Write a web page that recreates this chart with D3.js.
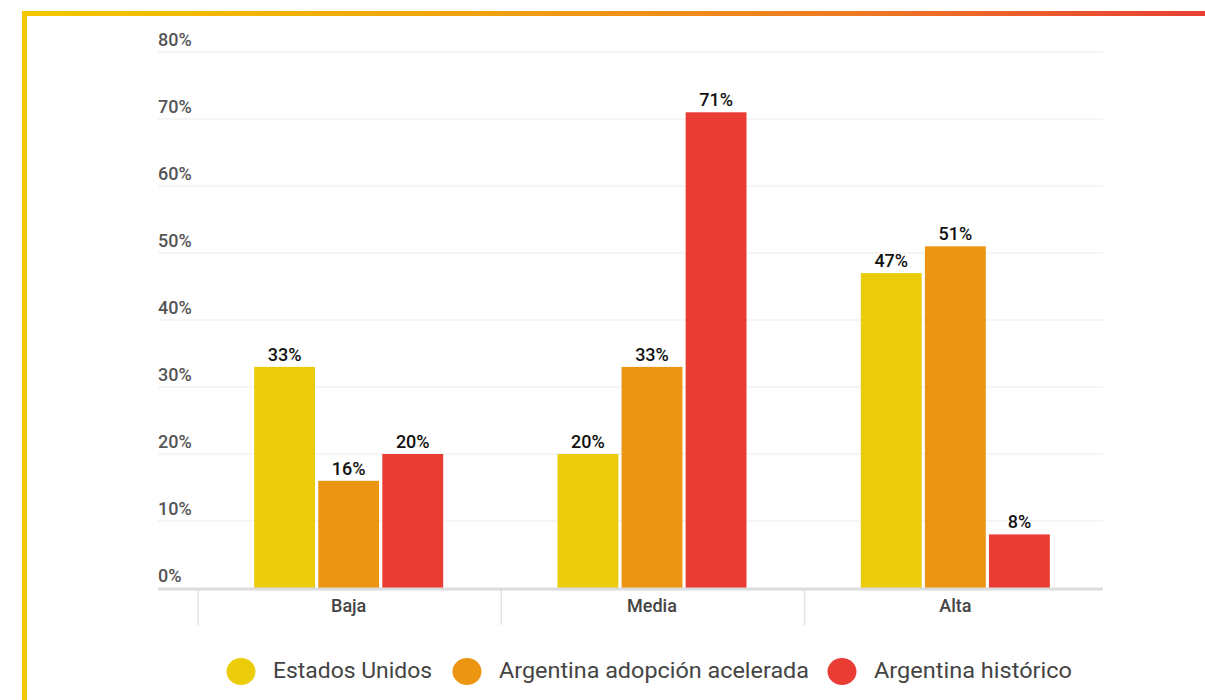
<!DOCTYPE html>
<html><head><meta charset="utf-8">
<script src="https://cdn.jsdelivr.net/npm/d3@7"></script>
<style>body{margin:0;background:#fff;font-family:Roboto,"Noto Sans",sans-serif;}</style>
</head><body>
<svg id="c" width="1205" height="700"></svg>
<script>
const categories = ["Baja", "Media", "Alta"];
const seriesNames = ["Estados Unidos", "Argentina adopción acelerada", "Argentina histórico"];
const estadosUnidos = [33, 20, 47];
const argAcelerada = [16, 33, 51];
const argHistorico = [20, 71, 8];
const yTicks = [0, 10, 20, 30, 40, 50, 60, 70, 80];
const colors = ["#ebcc0b", "#eb9513", "#e83c35"];
const series = [estadosUnidos, argAcelerada, argHistorico];

const svg = d3.select("#c");
const defs = svg.append("defs");
const grad = defs.append("linearGradient").attr("id","tg").attr("x1","0").attr("x2","1");
grad.append("stop").attr("offset","0").attr("stop-color","#f4c800");
grad.append("stop").attr("offset","0.4").attr("stop-color","#f0a010");
grad.append("stop").attr("offset","0.7").attr("stop-color","#ee7a22");
grad.append("stop").attr("offset","1").attr("stop-color","#e84034");

// frame
svg.append("rect").attr("x",22).attr("y",11).attr("width",1183).attr("height",5).attr("fill","url(#tg)");
svg.append("rect").attr("x",22).attr("y",11).attr("width",5).attr("height",689).attr("fill","#f4c800");

const gridX0 = 158, gridX1 = 1103;
const y = d3.scaleLinear().domain([0,80]).range([588,52]);
const x = d3.scaleBand().domain(categories).range([198,1108]).paddingInner(0).paddingOuter(0);
const groupW = 189;
const xs = d3.scaleBand().domain(d3.range(3)).range([0, groupW]).paddingInner(0.05);
const groupOffset = (x.bandwidth() - groupW) / 2 - 1;

// gridlines
svg.append("g").selectAll("line").data(yTicks.filter(d=>d>0)).join("line")
  .attr("x1",gridX0).attr("x2",gridX1).attr("y1",d=>y(d)).attr("y2",d=>y(d))
  .attr("stroke","#ebebeb").attr("stroke-width",1.2);
svg.append("g").selectAll("text").data(yTicks).join("text")
  .attr("x",gridX0).attr("y",d=>y(d)-6)
  .attr("font-size",18).attr("font-weight",500).attr("fill","#555")
  .text(d=>d+"%");

// bars
const g = svg.append("g");
categories.forEach((c,ci)=>{
  series.forEach((s,si)=>{
    const bx = x(c) + groupOffset + xs(si);
    g.append("rect").attr("x",bx).attr("width",xs.bandwidth())
      .attr("y",y(s[ci])).attr("height",y(0)-y(s[ci])).attr("fill",colors[si]);
    g.append("text").attr("x",bx+xs.bandwidth()/2).attr("y",y(s[ci])-6)
      .attr("text-anchor","middle").attr("font-size",18).attr("font-weight",500).attr("fill","#111")
      .text(s[ci]+"%");
  });
});

// baseline
svg.append("line").attr("x1",gridX0).attr("x2",gridX1).attr("y1",589).attr("y2",589)
  .attr("stroke","#dcdcdc").attr("stroke-width",3);
// separators
svg.append("g").selectAll("line").data(categories).join("line")
  .attr("x1",d=>x(d)).attr("x2",d=>x(d)).attr("y1",590).attr("y2",625)
  .attr("stroke","#e3e3e3").attr("stroke-width",1.5);
svg.append("g").selectAll("text").data(categories).join("text")
  .attr("x",d=>x(d)+x.bandwidth()/2-1).attr("y",612).attr("text-anchor","middle")
  .attr("font-size",18).attr("font-weight",500).attr("fill","#444").text(d=>d);

// legend
const legX = [241, 467, 842];
const lg = svg.append("g");
seriesNames.forEach((n,i)=>{
  lg.append("ellipse").attr("cx",legX[i]).attr("cy",671.5).attr("rx",14.5).attr("ry",13.5).attr("fill",colors[i]);
  lg.append("text").attr("x",legX[i]+32).attr("y",678).attr("font-size",22).attr("fill","#444")
    .attr("textLength", [159, 310, 198][i]).attr("lengthAdjust","spacingAndGlyphs").text(n);
});
</script>
</body></html>
